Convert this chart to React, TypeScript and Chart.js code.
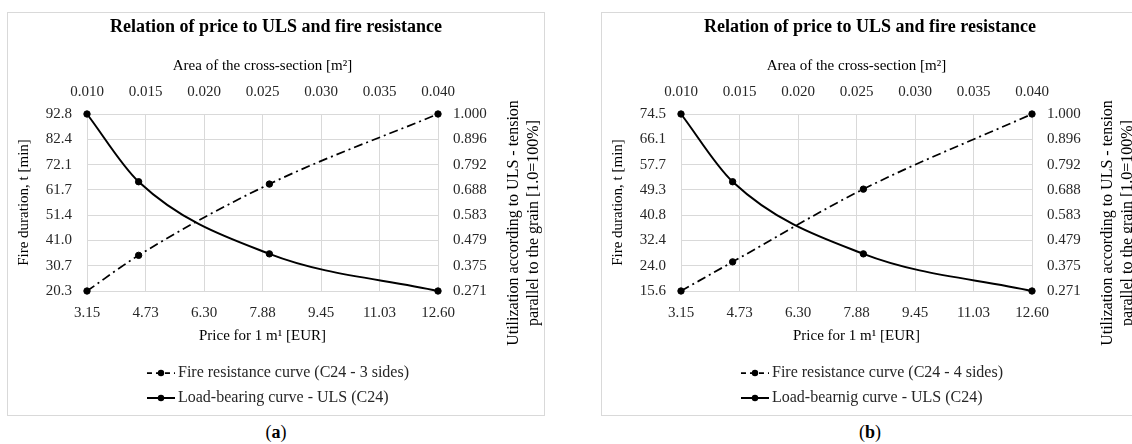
import React, { useEffect, useRef } from 'react';
import { Chart, registerables } from 'chart.js';

Chart.register(...registerables);

const FONT = '"Liberation Serif", "Times New Roman", serif';

// Cross-section areas [m²] of the four evaluated sections and their price for 1 m¹ [EUR]
const areaValues = [0.01, 0.0144, 0.0256, 0.04];
const priceValues = [3.15, 4.54, 8.06, 12.6];
// ULS utilization (right axis)
const ulsUtilization = [1.0, 0.721, 0.424, 0.271];
// Fire duration [min] (left axis)
const fireThreeSides = [20.3, 34.9, 64.1, 92.8];
const fireFourSides = [15.6, 25.3, 49.5, 74.5];

// Tick labels
const priceTickLabels = ['3.15', '4.73', '6.30', '7.88', '9.45', '11.03', '12.60'];
const areaTickLabels = ['0.010', '0.015', '0.020', '0.025', '0.030', '0.035', '0.040'];
const fireTickLabelsA = ['20.3', '30.7', '41.0', '51.4', '61.7', '72.1', '82.4', '92.8'];
const fireTickLabelsB = ['15.6', '24.0', '32.4', '40.8', '49.3', '57.7', '66.1', '74.5'];
const ulsTickLabels = ['0.271', '0.375', '0.479', '0.583', '0.688', '0.792', '0.896', '1.000'];

const CHART_TITLE = 'Relation of price to ULS and fire resistance';
const TOP_AXIS_TITLE = 'Area of the cross-section [m²]';
const BOTTOM_AXIS_TITLE = 'Price for 1 m¹ [EUR]';
const LEFT_AXIS_TITLE = 'Fire duration, t [min]';
const RIGHT_AXIS_TITLE = ['Utilization according to ULS - tension', 'parallel to the grain [1.0=100%]'];

const W = 536;
const H = 402;
const GRID = '#d9d9d9';
const TICK_COLOR = '#262626';
const FIRE_DASH = [9, 4, 2, 4];

function evenTicks(labels: string[]) {
  const min = parseFloat(labels[0]);
  const max = parseFloat(labels[labels.length - 1]);
  return {
    min,
    max,
    afterBuildTicks: (scale: any) => {
      scale.ticks = labels.map((_, i) => ({ value: min + (i * (max - min)) / (labels.length - 1) }));
    },
    callback: (_v: any, i: number) => labels[i],
  };
}

interface PanelProps {
  left: number;
  fireData: number[];
  fireTicks: string[];
  fireLabel: string;
  ulsLabel: string;
  caption: string;
}

function Panel({ left, fireData, fireTicks, fireLabel, ulsLabel, caption }: PanelProps) {
  const ref = useRef<HTMLCanvasElement>(null);

  useEffect(() => {
    if (!ref.current) return;
    const xT = evenTicks(priceTickLabels);
    const x2T = evenTicks(areaTickLabels);
    const yT = evenTicks(fireTicks);
    const y1T = evenTicks(ulsTickLabels);
    const tickFont = { family: FONT, size: 15 };
    const titleFont = { family: FONT, size: 15 };

    const overlay = {
      id: 'overlay',
      afterDraw(chart: any) {
        const ctx = chart.ctx as CanvasRenderingContext2D;
        // right axis title (reads bottom-to-top)
        ctx.save();
        ctx.fillStyle = '#000';
        ctx.font = `16px ${FONT}`;
        ctx.textAlign = 'center';
        ctx.textBaseline = 'middle';
        ctx.translate(506, 210);
        ctx.rotate(-Math.PI / 2);
        ctx.fillText(RIGHT_AXIS_TITLE[0], 0, 0);
        ctx.fillText(RIGHT_AXIS_TITLE[1], 0, 20);
        ctx.restore();

        // legend
        ctx.save();
        ctx.font = `16px ${FONT}`;
        const labels = [fireLabel, ulsLabel];
        const sampleW = 28;
        const gap = 3;
        const maxW = Math.max(...labels.map((l) => ctx.measureText(l).width));
        const blockW = sampleW + gap + maxW;
        const x0 = W / 2 + 2 - blockW / 2;
        const rows = [360, 385];
        rows.forEach((y, i) => {
          ctx.strokeStyle = '#000';
          ctx.fillStyle = '#000';
          ctx.lineWidth = i === 0 ? 1.75 : 2;
          ctx.setLineDash(i === 0 ? [5, 4] : []);
          ctx.beginPath();
          ctx.moveTo(x0, y);
          ctx.lineTo(x0 + sampleW, y);
          ctx.stroke();
          ctx.setLineDash([]);
          ctx.beginPath();
          ctx.arc(x0 + sampleW / 2, y, 3.2, 0, Math.PI * 2);
          ctx.fill();
          ctx.textAlign = 'left';
          ctx.textBaseline = 'middle';
          ctx.fillStyle = TICK_COLOR;
          ctx.fillText(labels[i], x0 + sampleW + gap, y);
        });
        ctx.restore();
      },
    };

    const chart = new Chart(ref.current, {
      type: 'line',
      data: {
        datasets: [
          {
            label: fireLabel,
            data: priceValues.map((p, i) => ({ x: p, y: fireData[i] })),
            xAxisID: 'x',
            yAxisID: 'y',
            borderColor: '#000',
            backgroundColor: '#000',
            borderWidth: 1.75,
            borderDash: FIRE_DASH,
            pointRadius: 3.2,
            pointBackgroundColor: '#000',
            pointBorderColor: '#000',
            pointBorderWidth: 1,
            cubicInterpolationMode: 'monotone',
            clip: false,
          } as any,
          {
            label: ulsLabel,
            data: priceValues.map((p, i) => ({ x: p, y: ulsUtilization[i] })),
            xAxisID: 'x',
            yAxisID: 'y1',
            borderColor: '#000',
            backgroundColor: '#000',
            borderWidth: 2,
            pointRadius: 3.2,
            pointBackgroundColor: '#000',
            pointBorderColor: '#000',
            pointBorderWidth: 1,
            cubicInterpolationMode: 'monotone',
            clip: false,
          } as any,
        ],
      },
      options: {
        responsive: false,
        animation: false,
        events: [],
        layout: { padding: { left: 0, right: 0, top: 0, bottom: 70 } },
        plugins: {
          legend: { display: false },
          tooltip: { enabled: false },
          title: {
            display: true,
            text: CHART_TITLE,
            color: '#000',
            font: { family: FONT, size: 18, weight: 'bold' },
            padding: { top: 4, bottom: 10 },
          },
        },
        scales: {
          x: {
            type: 'linear',
            position: 'bottom',
            min: xT.min,
            max: xT.max,
            afterBuildTicks: xT.afterBuildTicks,
            afterFit: (s: any) => {
              s.height = 54;
            },
            grid: { color: GRID, lineWidth: 1, drawTicks: false },
            border: { display: false },
            ticks: { autoSkip: false, maxRotation: 0, padding: 13, font: tickFont, color: TICK_COLOR, callback: xT.callback },
            title: { display: true, text: BOTTOM_AXIS_TITLE, color: '#000', font: titleFont, padding: { top: 0, bottom: 0 } },
          },
          x2: {
            type: 'linear',
            position: 'top',
            min: x2T.min,
            max: x2T.max,
            afterBuildTicks: x2T.afterBuildTicks,
            afterFit: (s: any) => {
              s.height = 65.4;
            },
            grid: { display: false, drawTicks: false },
            border: { display: false },
            ticks: { autoSkip: false, maxRotation: 0, padding: 13, font: tickFont, color: TICK_COLOR, callback: x2T.callback },
            title: { display: true, text: TOP_AXIS_TITLE, color: '#000', font: titleFont, padding: { top: 8.4, bottom: 0 } },
          },
          y: {
            type: 'linear',
            position: 'left',
            min: yT.min,
            max: yT.max,
            afterBuildTicks: yT.afterBuildTicks,
            afterFit: (s: any) => {
              s.width = 79;
            },
            grid: { color: GRID, lineWidth: 1, drawTicks: false },
            border: { display: false },
            ticks: { autoSkip: false, padding: 15, font: tickFont, color: TICK_COLOR, callback: yT.callback },
            title: { display: true, text: LEFT_AXIS_TITLE, color: '#000', font: titleFont, padding: { top: 7, bottom: 0 } },
          },
          y1: {
            type: 'linear',
            position: 'right',
            min: y1T.min,
            max: y1T.max,
            afterBuildTicks: y1T.afterBuildTicks,
            afterFit: (s: any) => {
              s.width = 106;
            },
            grid: { display: false, drawTicks: false },
            border: { display: false },
            ticks: { autoSkip: false, padding: 15, font: tickFont, color: TICK_COLOR, callback: y1T.callback },
          },
        },
      } as any,
      plugins: [overlay],
    });
    return () => chart.destroy();
  }, []);

  return (
    <>
      <div
        style={{
          position: 'absolute',
          left,
          top: 12,
          width: W,
          height: H,
          border: `1px solid ${GRID}`,
          background: '#fff',
        }}
      >
        <canvas ref={ref} width={W} height={H} style={{ display: 'block', width: W, height: H }} />
      </div>
      <div
        style={{
          position: 'absolute',
          left,
          top: 421,
          width: W + 2,
          textAlign: 'center',
          fontFamily: FONT,
          fontSize: 18,
          lineHeight: '22px',
          color: '#000',
        }}
      >
        (<b>{caption}</b>)
      </div>
    </>
  );
}

export default function App() {
  // areaValues documents the sections behind the price axis (price = area × unit price)
  void areaValues;
  return (
    <div style={{ position: 'fixed', left: 0, top: 0, width: 1132, height: 444, overflow: 'hidden', background: '#fff' }}>
      <Panel
        left={7}
        fireData={fireThreeSides}
        fireTicks={fireTickLabelsA}
        fireLabel="Fire resistance curve (C24 - 3 sides)"
        ulsLabel="Load-bearing curve - ULS (C24)"
        caption="a"
      />
      <Panel
        left={601}
        fireData={fireFourSides}
        fireTicks={fireTickLabelsB}
        fireLabel="Fire resistance curve (C24 - 4 sides)"
        ulsLabel="Load-bearnig curve - ULS (C24)"
        caption="b"
      />
    </div>
  );
}
